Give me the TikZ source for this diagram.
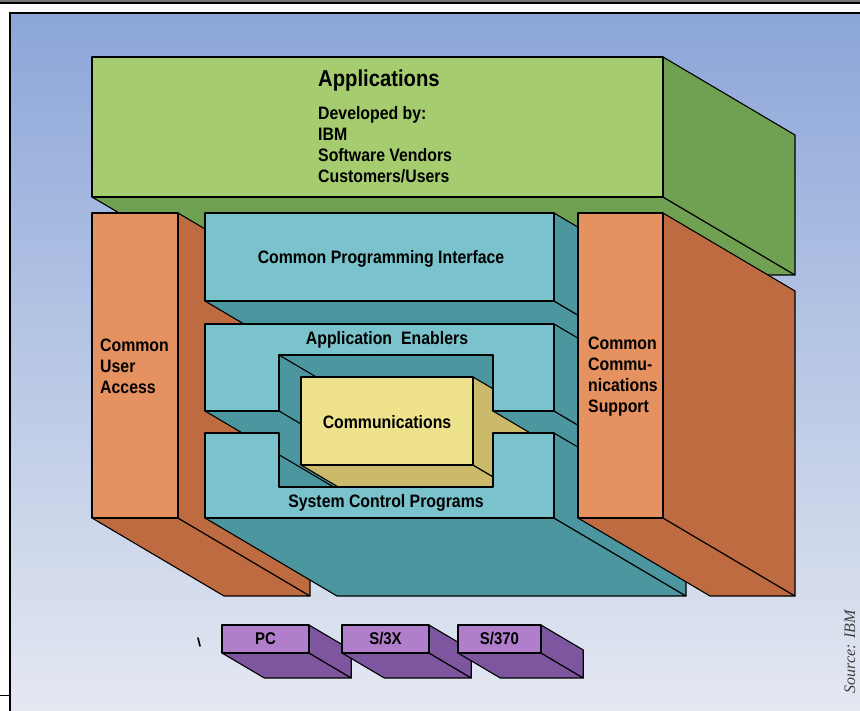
\documentclass[tikz,border=0pt]{standalone}
\usepackage{fontspec}
\setmainfont{Liberation Sans}[FakeStretch=0.88]
\newfontfamily\creditfont{Liberation Serif}
\usepackage{xcolor}

\definecolor{skytop}{RGB}{140,166,217}
\definecolor{skymid}{RGB}{176,194,228}
\definecolor{skybottom}{RGB}{228,232,241}
\definecolor{appfront}{RGB}{166,204,112}
\definecolor{appside}{RGB}{112,160,82}
\definecolor{colfront}{RGB}{230,146,96}
\definecolor{colside}{RGB}{190,107,66}
\definecolor{shelffront}{RGB}{122,194,204}
\definecolor{shelfside}{RGB}{76,150,160}
\definecolor{commfront}{RGB}{238,227,140}
\definecolor{commside}{RGB}{202,186,106}
\definecolor{hwfront}{RGB}{176,126,202}
\definecolor{hwside}{RGB}{126,86,160}

\newcommand{\depthx}{132}
\newcommand{\depthy}{78}

% solid block: underside, right side, then the front face on top
% #1 depth factor, #2-#5 front corners, #6 front colour, #7 side colour
\newcommand{\solidbox}[7][1]{%
  \draw[face, fill=#7] (#2,#5) -- (#4,#5) -- ++({#1*\depthx},{#1*\depthy}) -- ++({#2-#4},0) -- cycle;
  \draw[face, fill=#7] (#4,#3) -- ++({#1*\depthx},{#1*\depthy}) -- ++(0,{#5-#3}) -- (#4,#5) -- cycle;
  \draw[face, fill=#6] (#2,#3) rectangle (#4,#5);
}

\begin{document}
\begin{tikzpicture}[x=1pt, y=-1pt,
		% Styles
		face/.style={draw=black, line width=1.1pt, line join=round},
		boxtext/.style={inner sep=0pt, font=\bfseries\fontsize{18}{21}\selectfont},
		headtext/.style={inner sep=0pt, font=\bfseries\fontsize{23}{26}\selectfont},
		hwtext/.style={inner sep=0pt, font=\bfseries\fontsize{17}{20}\selectfont}
	]
	\useasboundingbox (0,0) rectangle (860,711);

	% --- Page frame ---
	\fill[white] (0,0) rectangle (860,711);
	\fill[black!55] (0,0) rectangle (860,3);
	\shade[top color=skytop, middle color=skymid, bottom color=skybottom] (10,13) rectangle (860,711);
	\draw[line width=1.1pt] (0,3) -- (860,3);
	\draw[line width=1.1pt] (10,711) -- (10,13) -- (860,13);
	\draw[line width=0.8pt] (0,695) -- (10,695);

	% --- Applications ---
	\solidbox{92}{57}{663}{197}{appfront}{appside}
	\node[headtext, anchor=west] (apps) at (318,81) {Applications};
	\node[boxtext, anchor=north west, align=left] (devby) at (318,106) {Developed by:\\IBM\\Software Vendors\\Customers/Users};

	% --- User access column ---
	\solidbox{92}{213}{178}{518}{colfront}{colside}
	\node[boxtext, anchor=west, align=left] (cua) at (100,366) {Common\\User\\Access};

	% --- Programming interface ---
	\solidbox{205}{213}{554}{301}{shelffront}{shelfside}
	\node[boxtext] (cpi) at (381,259) {Common Programming Interface};

	% --- Opening through enablers and control programs ---
	\draw[face, fill=shelfside] (279,355) rectangle (493,487);
	\draw[face] (279,355) -- ++(66,39);
	\draw[face] (279,433) -- ++(44,26);
	\draw[face, fill=shelfside] (205,411) -- (279,411) -- ++(\depthx,\depthy) -- ++(-74,0) -- cycle;

	% --- Communications ---
	\solidbox[0.45]{301}{377}{473}{465}{commfront}{commside}
	\node[boxtext] (comm) at (387,422) {Communications};

	% --- Application enablers ---
	\draw[face, fill=shelfside] (493,411) -- (554,411) -- ++(\depthx,\depthy) -- ++(-61,0) -- cycle;
	\draw[face, fill=shelfside] (554,324) -- ++(\depthx,\depthy) -- ++(0,87) -- (554,411) -- cycle;
	\draw[face, fill=shelffront] (205,324) -- (554,324) -- (554,411) -- (493,411) -- (493,355)
		-- (279,355) -- (279,411) -- (205,411) -- cycle;
	\node[boxtext] (enablers) at (387,340) {Application\enspace Enablers};

	% --- System control programs ---
	\draw[face, fill=shelfside] (205,518) -- (554,518) -- ++(\depthx,\depthy) -- ++(-349,0) -- cycle;
	\draw[face, fill=shelfside] (554,433) -- ++(\depthx,\depthy) -- ++(0,85) -- (554,518) -- cycle;
	\draw[face, fill=shelffront] (205,433) -- (279,433) -- (279,487) -- (493,487) -- (493,433)
		-- (554,433) -- (554,518) -- (205,518) -- cycle;
	\node[boxtext] (scp) at (386,503) {System Control Programs};

	% --- Communications support column ---
	\solidbox{578}{213}{663}{518}{colfront}{colside}
	\node[boxtext, anchor=west, align=left] (ccs) at (588,377) {Common\\Commu-\\nications\\Support};

	% --- Hardware ---
	\solidbox[0.32]{222}{625}{309}{653}{hwfront}{hwside}
	\solidbox[0.32]{342}{625}{429}{653}{hwfront}{hwside}
	\solidbox[0.32]{458}{625}{541}{653}{hwfront}{hwside}
	\node[hwtext] (pc) at (265.5,639) {PC};
	\node[hwtext] (s3x) at (385.5,639) {S/3X};
	\node[hwtext] (s370) at (499.5,639) {S/370};
	\draw[line width=1.6pt, line cap=round] (198,638) -- (200,646);

	% credit line
	\node[rotate=90, font=\creditfont\itshape\fontsize{16}{18}\selectfont, text=black!75] (credit) at (850,652) {Source: IBM};

\end{tikzpicture}
\end{document}
